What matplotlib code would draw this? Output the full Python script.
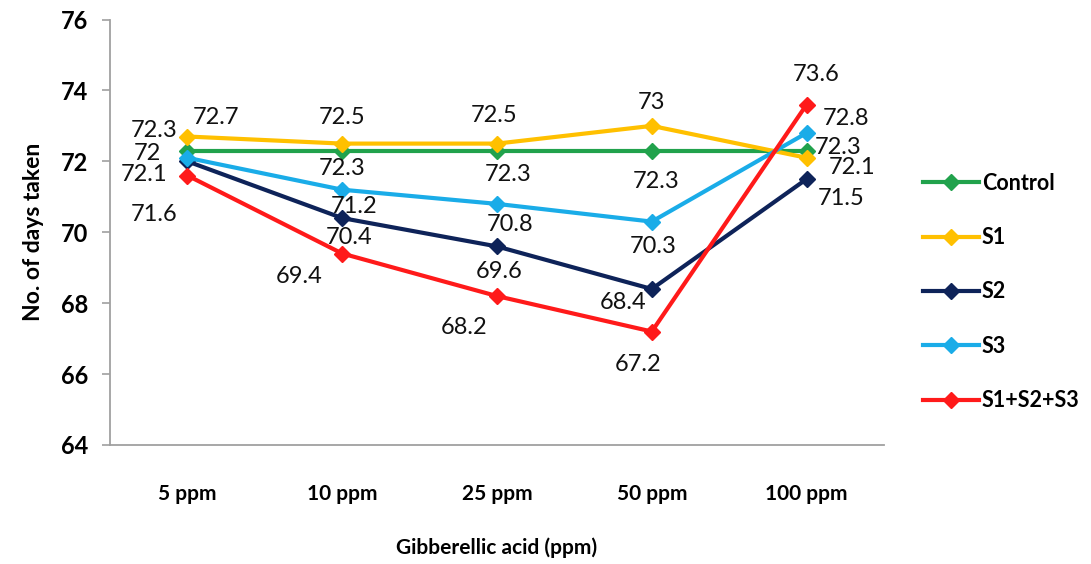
import matplotlib
matplotlib.use("Agg")
import matplotlib.pyplot as plt

# Days taken by treatment across gibberellic acid concentrations
doses = ["5 ppm", "10 ppm", "25 ppm", "50 ppm", "100 ppm"]
series_names = ["Control", "S1", "S2", "S3", "S1+S2+S3"]
control = [72.3, 72.3, 72.3, 72.3, 72.3]
s1 = [72.7, 72.5, 72.5, 73.0, 72.1]
s2 = [72.0, 70.4, 69.6, 68.4, 71.5]
s3 = [72.1, 71.2, 70.8, 70.3, 72.8]
s_all = [71.6, 69.4, 68.2, 67.2, 73.6]
y_ticks = [64, 66, 68, 70, 72, 74, 76]

colors = ["#21A24C", "#FFC000", "#0E2359", "#1AACE8", "#FF1A1A"]
values = [control, s1, s2, s3, s_all]

# Label placement (pixel offsets from each point, x right / y up)
label_offsets = [
    [(-33, 20), (0, -18), (11, -24), (4, -31), (32, 3)],      # Control
    [(29, 19), (0, 26), (-3, 28), (0, 23), (45, -10)],        # S1
    [(-40, 8), (7, -19), (2, -25), (-29, -14), (35, -19)],    # S2
    [(-43, -17), (12, -17), (13, -21), (1, -25), (39, 14)],   # S3
    [(-33, -39), (-43, -23), (-33, -31), (-14, -33), (10, 30)],  # S1+S2+S3
]

plt.rcParams["font.family"] = ["Lato", "DejaVu Sans"]

fig = plt.figure(figsize=(10.91, 5.64), dpi=100)
ax = fig.add_axes([110 / 1091, 1 - 445 / 564, 774 / 1091, 425.5 / 564])

x = list(range(len(doses)))
for name, vals, col, offs in zip(series_names, values, colors, label_offsets):
    ax.plot(x, vals, color=col, lw=3.0, marker="D", markersize=8.5,
            markeredgecolor=col, label=name, solid_joinstyle="miter")
    for xi, v, (dx, dy) in zip(x, vals, offs):
        ax.annotate(f"{v:g}", (xi, v), xytext=(dx, dy), textcoords="offset pixels",
                    ha="center", va="center", fontsize=17, color="#111111")

ax.set_xlim(-0.5, len(doses) - 0.5)
ax.set_ylim(64, 76)
ax.set_yticks(y_ticks)
ax.set_yticklabels([str(t) for t in y_ticks], fontsize=17, fontweight="bold")
ax.set_xticks(x)
ax.set_xticklabels(doses, fontsize=15, fontweight="bold")
ax.tick_params(axis="x", length=0, pad=28)
ax.tick_params(axis="y", length=6, color="#A0A0A0", width=1.2, pad=10)

for side in ["top", "right"]:
    ax.spines[side].set_visible(False)
for side in ["left", "bottom"]:
    ax.spines[side].set_color("#A0A0A0")
    ax.spines[side].set_linewidth(1.3)

ax.set_ylabel("No. of days taken", fontsize=16.5, fontweight="bold", labelpad=12)
ax.set_xlabel("Gibberellic acid (ppm)", fontsize=15, fontweight="bold", labelpad=24)

ax.legend(loc="center left", bbox_to_anchor=(914 / 1091, 1 - 292 / 564),
          bbox_transform=fig.transFigure, frameon=False,
          prop={"weight": "bold", "size": 15.5}, handlelength=2.6,
          handletextpad=0.15, labelspacing=1.55, borderaxespad=0)

fig.savefig("out.png", dpi=100)
